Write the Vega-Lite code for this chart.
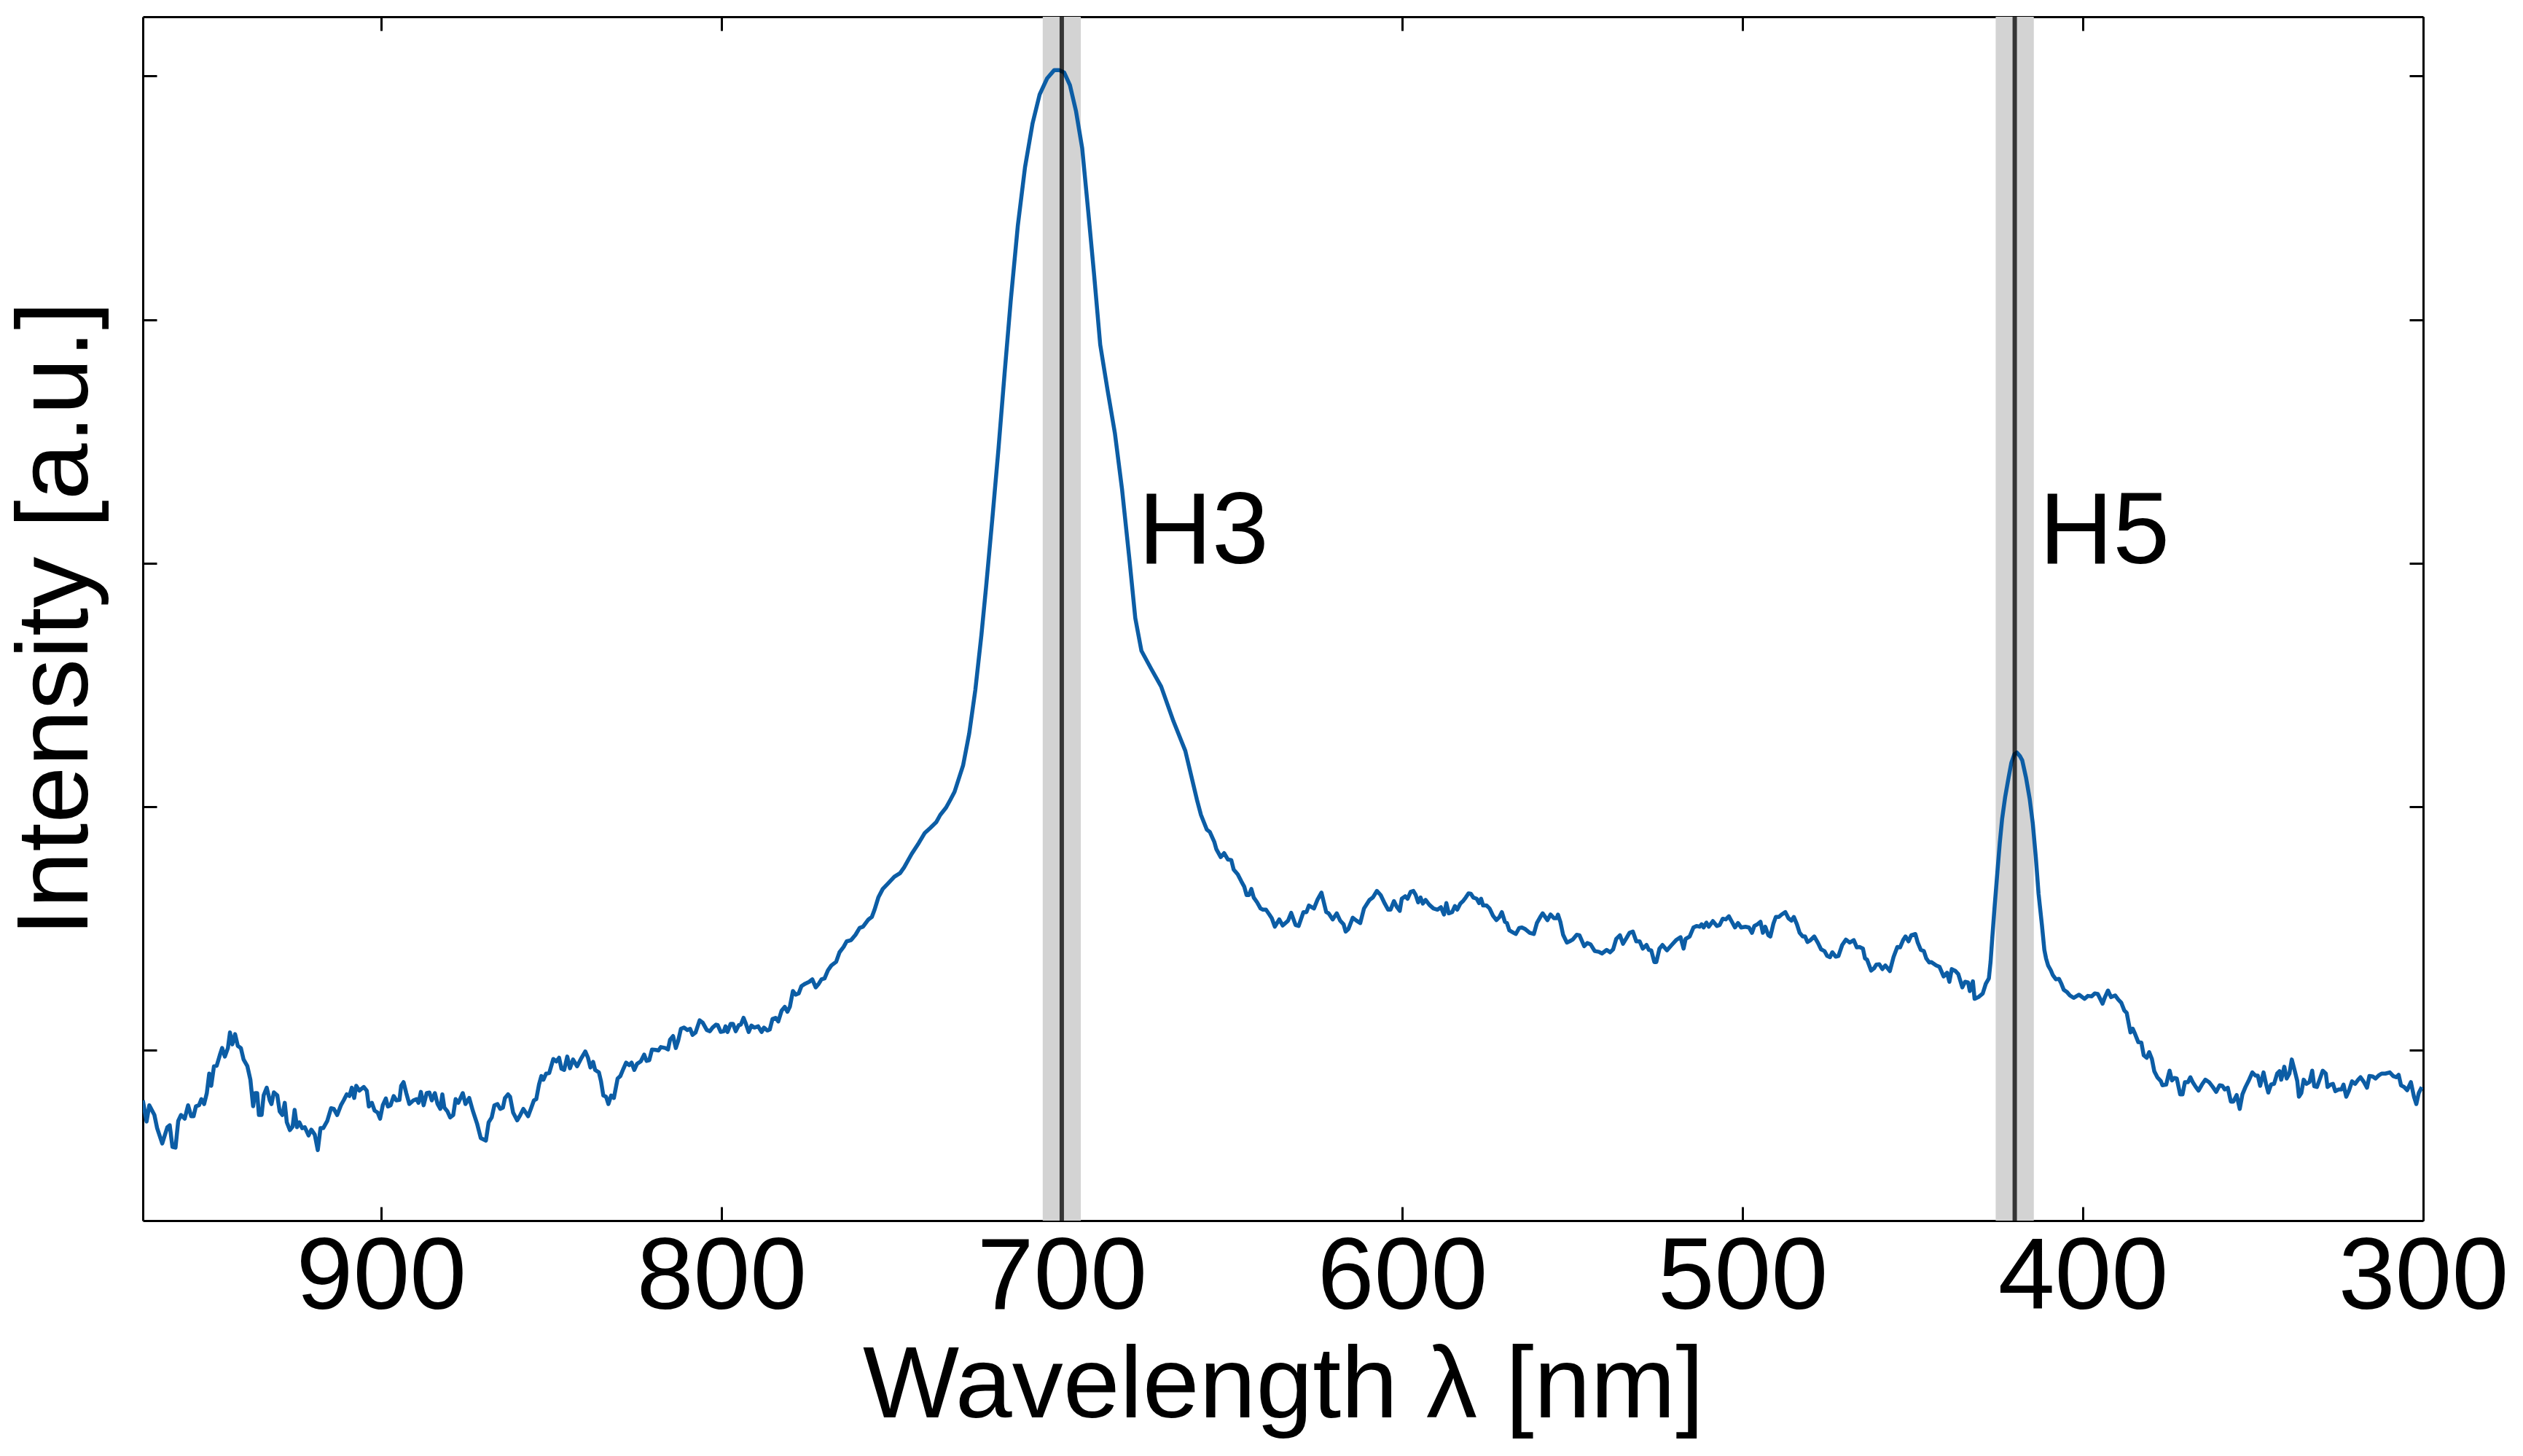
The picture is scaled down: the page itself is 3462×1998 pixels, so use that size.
{
  "$schema": "https://vega.github.io/schema/vega-lite/v6.json",
  "width": 3129,
  "height": 1652,
  "autosize": {"type": "none"},
  "padding": {"left": 196, "top": 23, "right": 137, "bottom": 323},
  "background": "white",
  "config": {
    "view": {"stroke": null},
    "axis": {
      "domainColor": "black", "domainWidth": 3,
      "tickColor": "black", "tickWidth": 3, "tickSize": -19,
      "grid": false,
      "labelFont": "Liberation Sans", "labelFontSize": 140, "labelColor": "black",
      "labelFlush": false, "labelOverlap": false, "labelLimit": 0,
      "titleFont": "Liberation Sans", "titleFontSize": 140, "titleFontWeight": "normal", "titleColor": "black", "titleLimit": 0
    }
  },
  "resolve": {"axis": {"x": "independent", "y": "independent"}},
  "layer": [
    {
      "data": {"values": [{"a": 705.6, "b": 694.4}, {"a": 425.6, "b": 414.4}]},
      "mark": {"type": "rect", "color": "#d3d3d3"},
      "encoding": {
        "x": {"field": "a", "type": "quantitative", "scale": {"domain": [300, 970], "reverse": true, "nice": false, "zero": false}, "axis": null},
        "x2": {"field": "b"}
      }
    },
    {
      "data": {"values": [
        {"w":970.0,"i":-0.205},{"w":968.9,"i":-0.292},{"w":968.1,"i":-0.225},{"w":966.6,"i":-0.265},{"w":965.8,"i":-0.319},{"w":964.3,"i":-0.382},{"w":962.8,"i":-0.315},{"w":962.1,"i":-0.307},{"w":961.3,"i":-0.396},{"w":960.4,"i":-0.399},{"w":959.6,"i":-0.289},{"w":958.8,"i":-0.265},{"w":957.7,"i":-0.28},{"w":956.7,"i":-0.225},{"w":955.8,"i":-0.27},{"w":955.1,"i":-0.27},{"w":954.4,"i":-0.229},{"w":953.5,"i":-0.225},{"w":952.8,"i":-0.2},{"w":952.0,"i":-0.22},{"w":951.2,"i":-0.175},{"w":950.5,"i":-0.095},{"w":949.9,"i":-0.145},{"w":949.1,"i":-0.065},{"w":948.3,"i":-0.063},{"w":947.4,"i":-0.02},{"w":946.7,"i":0.01},{"w":945.9,"i":-0.025},{"w":945.0,"i":0.01},{"w":944.4,"i":0.074},{"w":943.7,"i":0.025},{"w":942.9,"i":0.067},{"w":942.1,"i":0.019},{"w":941.2,"i":0.01},{"w":940.4,"i":-0.037},{"w":939.3,"i":-0.064},{"w":938.4,"i":-0.12},{"w":937.6,"i":-0.229},{"w":937.0,"i":-0.175},{"w":936.4,"i":-0.175},{"w":935.9,"i":-0.265},{"w":935.1,"i":-0.265},{"w":934.5,"i":-0.184},{"w":933.6,"i":-0.153},{"w":932.7,"i":-0.205},{"w":932.2,"i":-0.22},{"w":931.5,"i":-0.172},{"w":930.5,"i":-0.184},{"w":929.8,"i":-0.25},{"w":929.0,"i":-0.265},{"w":928.3,"i":-0.215},{"w":927.7,"i":-0.295},{"w":926.8,"i":-0.327},{"w":926.0,"i":-0.313},{"w":925.4,"i":-0.244},{"w":924.7,"i":-0.315},{"w":924.0,"i":-0.295},{"w":923.2,"i":-0.319},{"w":922.4,"i":-0.315},{"w":921.3,"i":-0.349},{"w":920.5,"i":-0.325},{"w":919.5,"i":-0.345},{"w":918.6,"i":-0.409},{"w":917.8,"i":-0.319},{"w":917.0,"i":-0.319},{"w":915.8,"i":-0.289},{"w":914.7,"i":-0.237},{"w":913.9,"i":-0.24},{"w":912.9,"i":-0.265},{"w":911.8,"i":-0.225},{"w":911.0,"i":-0.205},{"w":910.1,"i":-0.18},{"w":909.3,"i":-0.187},{"w":908.6,"i":-0.153},{"w":907.9,"i":-0.195},{"w":907.3,"i":-0.145},{"w":906.4,"i":-0.165},{"w":905.1,"i":-0.15},{"w":904.2,"i":-0.165},{"w":903.6,"i":-0.23},{"w":902.7,"i":-0.215},{"w":901.9,"i":-0.247},{"w":901.0,"i":-0.255},{"w":900.3,"i":-0.28},{"w":899.5,"i":-0.225},{"w":898.6,"i":-0.197},{"w":898.0,"i":-0.23},{"w":897.2,"i":-0.225},{"w":896.3,"i":-0.187},{"w":895.5,"i":-0.205},{"w":894.6,"i":-0.203},{"w":894.1,"i":-0.145},{"w":893.4,"i":-0.13},{"w":892.6,"i":-0.175},{"w":891.7,"i":-0.22},{"w":890.5,"i":-0.205},{"w":889.6,"i":-0.2},{"w":889.0,"i":-0.215},{"w":888.3,"i":-0.17},{"w":887.5,"i":-0.225},{"w":886.6,"i":-0.175},{"w":885.8,"i":-0.173},{"w":885.1,"i":-0.205},{"w":884.2,"i":-0.175},{"w":883.4,"i":-0.22},{"w":882.6,"i":-0.24},{"w":882.0,"i":-0.18},{"w":881.4,"i":-0.235},{"w":880.5,"i":-0.25},{"w":879.7,"i":-0.275},{"w":878.8,"i":-0.265},{"w":878.1,"i":-0.2},{"w":877.3,"i":-0.215},{"w":876.0,"i":-0.175},{"w":875.2,"i":-0.22},{"w":874.1,"i":-0.195},{"w":873.1,"i":-0.245},{"w":871.8,"i":-0.3},{"w":870.7,"i":-0.36},{"w":869.2,"i":-0.37},{"w":868.4,"i":-0.295},{"w":867.5,"i":-0.275},{"w":866.7,"i":-0.225},{"w":865.8,"i":-0.22},{"w":865.0,"i":-0.24},{"w":864.2,"i":-0.235},{"w":863.6,"i":-0.195},{"w":862.7,"i":-0.18},{"w":862.1,"i":-0.19},{"w":861.2,"i":-0.255},{"w":860.0,"i":-0.287},{"w":859.1,"i":-0.265},{"w":858.2,"i":-0.24},{"w":856.8,"i":-0.27},{"w":856.0,"i":-0.24},{"w":855.1,"i":-0.205},{"w":854.4,"i":-0.2},{"w":853.6,"i":-0.14},{"w":852.9,"i":-0.105},{"w":852.3,"i":-0.12},{"w":851.5,"i":-0.095},{"w":850.6,"i":-0.093},{"w":849.4,"i":-0.035},{"w":848.5,"i":-0.045},{"w":847.7,"i":-0.03},{"w":847.0,"i":-0.075},{"w":846.2,"i":-0.08},{"w":845.3,"i":-0.025},{"w":844.5,"i":-0.073},{"w":843.6,"i":-0.037},{"w":842.4,"i":-0.065},{"w":841.3,"i":-0.035},{"w":840.0,"i":-0.004},{"w":839.2,"i":-0.03},{"w":838.5,"i":-0.07},
        {"w":837.7,"i":-0.047},{"w":837.1,"i":-0.08},{"w":836.0,"i":-0.09},{"w":835.4,"i":-0.125},{"w":834.7,"i":-0.185},{"w":833.9,"i":-0.19},{"w":833.2,"i":-0.22},{"w":832.4,"i":-0.185},{"w":831.6,"i":-0.195},{"w":830.5,"i":-0.115},{"w":829.7,"i":-0.105},{"w":828.8,"i":-0.075},{"w":828.0,"i":-0.05},{"w":827.1,"i":-0.06},{"w":826.4,"i":-0.05},{"w":825.6,"i":-0.08},{"w":824.8,"i":-0.055},{"w":823.7,"i":-0.045},{"w":822.7,"i":-0.017},{"w":822.0,"i":-0.043},{"w":821.2,"i":-0.04},{"w":820.4,"i":0.004},{"w":819.3,"i":0.002},{"w":818.5,"i":0.0},{"w":817.8,"i":0.014},{"w":816.5,"i":0.01},{"w":815.7,"i":0.004},{"w":815.1,"i":0.044},{"w":814.2,"i":0.059},{"w":813.4,"i":0.01},{"w":812.7,"i":0.04},{"w":811.9,"i":0.089},{"w":811.0,"i":0.094},{"w":810.0,"i":0.084},{"w":809.2,"i":0.089},{"w":808.5,"i":0.064},{"w":807.6,"i":0.074},{"w":806.4,"i":0.124},{"w":805.5,"i":0.114},{"w":804.3,"i":0.084},{"w":803.4,"i":0.079},{"w":802.6,"i":0.094},{"w":801.6,"i":0.106},{"w":801.1,"i":0.104},{"w":800.2,"i":0.076},{"w":799.3,"i":0.079},{"w":798.8,"i":0.099},{"w":798.2,"i":0.076},{"w":797.3,"i":0.109},{"w":796.6,"i":0.109},{"w":795.8,"i":0.079},{"w":794.9,"i":0.104},{"w":794.3,"i":0.106},{"w":793.5,"i":0.134},{"w":792.8,"i":0.109},{"w":792.0,"i":0.076},{"w":791.2,"i":0.102},{"w":790.3,"i":0.094},{"w":789.2,"i":0.099},{"w":788.2,"i":0.076},{"w":787.5,"i":0.094},{"w":786.5,"i":0.082},{"w":785.8,"i":0.086},{"w":785.0,"i":0.129},{"w":784.1,"i":0.134},{"w":783.3,"i":0.119},{"w":782.3,"i":0.164},{"w":781.4,"i":0.179},{"w":780.6,"i":0.159},{"w":779.9,"i":0.179},{"w":779.0,"i":0.244},{"w":778.2,"i":0.229},{"w":777.3,"i":0.234},{"w":776.5,"i":0.264},{"w":775.4,"i":0.274},{"w":774.2,"i":0.282},{"w":773.3,"i":0.292},{"w":772.3,"i":0.259},{"w":771.4,"i":0.274},{"w":770.6,"i":0.292},{"w":769.7,"i":0.296},{"w":768.7,"i":0.329},{"w":767.7,"i":0.349},{"w":766.3,"i":0.364},{"w":765.3,"i":0.403},{"w":764.1,"i":0.425},{"w":763.2,"i":0.448},{"w":761.9,"i":0.453},{"w":760.6,"i":0.475},{"w":759.4,"i":0.503},{"w":758.4,"i":0.508},{"w":756.8,"i":0.538},{"w":755.8,"i":0.548},{"w":755.0,"i":0.578},{"w":753.9,"i":0.628},{"w":752.6,"i":0.663},{"w":750.9,"i":0.688},{"w":749.2,"i":0.713},{"w":747.5,"i":0.728},{"w":746.3,"i":0.752},{"w":744.1,"i":0.807},{"w":742.0,"i":0.852},{"w":740.3,"i":0.892},{"w":738.6,"i":0.914},{"w":736.9,"i":0.937},{"w":735.7,"i":0.967},{"w":734.0,"i":0.997},{"w":732.7,"i":1.03},
        {"w":731.5,"i":1.062},{"w":729.0,"i":1.17},{"w":727.2,"i":1.301},{"w":725.4,"i":1.48},{"w":723.6,"i":1.707},{"w":722.2,"i":1.909},{"w":720.4,"i":2.183},{"w":718.6,"i":2.47},{"w":716.8,"i":2.78},{"w":715.0,"i":3.078},{"w":712.9,"i":3.388},{"w":710.8,"i":3.626},{"w":708.6,"i":3.805},{"w":706.5,"i":3.925},{"w":704.3,"i":3.991},{"w":702.2,"i":4.025},{"w":700.8,"i":4.025},{"w":699.3,"i":4.015},{"w":697.6,"i":3.963},{"w":695.8,"i":3.855},{"w":694.0,"i":3.704},{"w":692.2,"i":3.441},{"w":690.5,"i":3.185},{"w":688.7,"i":2.897},{"w":686.5,"i":2.707},{"w":684.4,"i":2.535},{"w":682.3,"i":2.305},{"w":680.1,"i":2.013},{"w":678.4,"i":1.775},{"w":676.6,"i":1.641},{"w":673.7,"i":1.566},{"w":670.8,"i":1.494},{"w":667.2,"i":1.352},{"w":663.7,"i":1.23},
        {"w":660.3,"i":1.03},{"w":659.1,"i":0.967},{"w":657.4,"i":0.907},{"w":656.5,"i":0.897},{"w":655.2,"i":0.857},{"w":654.6,"i":0.827},{"w":653.3,"i":0.794},{"w":652.3,"i":0.81},{"w":651.2,"i":0.784},{"w":650.2,"i":0.782},{"w":649.5,"i":0.743},{"w":648.3,"i":0.723},{"w":647.2,"i":0.693},{"w":646.4,"i":0.673},{"w":645.7,"i":0.638},{"w":645.0,"i":0.638},{"w":644.3,"i":0.663},{"w":643.6,"i":0.628},{"w":642.6,"i":0.608},{"w":641.6,"i":0.583},{"w":640.9,"i":0.578},{"w":640.0,"i":0.578},{"w":639.0,"i":0.558},{"w":638.3,"i":0.543},{"w":637.4,"i":0.508},{"w":636.1,"i":0.538},{"w":635.1,"i":0.513},{"w":633.5,"i":0.533},{"w":632.6,"i":0.565},{"w":631.3,"i":0.515},{"w":630.4,"i":0.511},{"w":629.0,"i":0.568},{"w":628.1,"i":0.568},{"w":627.4,"i":0.595},{"w":625.9,"i":0.583},{"w":624.9,"i":0.618},{"w":623.7,"i":0.648},{"w":622.3,"i":0.568},{"w":621.6,"i":0.563},{"w":620.4,"i":0.538},{"w":619.2,"i":0.563},{"w":618.2,"i":0.533},{"w":617.2,"i":0.518},{"w":616.6,"i":0.488},{"w":615.8,"i":0.498},{"w":614.5,"i":0.545},{"w":613.4,"i":0.533},{"w":612.3,"i":0.523},{"w":611.2,"i":0.583},{"w":609.6,"i":0.618},{"w":608.6,"i":0.628},{"w":607.4,"i":0.655},{"w":606.3,"i":0.638},{"w":605.1,"i":0.603},{"w":604.1,"i":0.578},{"w":603.4,"i":0.578},{"w":602.4,"i":0.613},{"w":601.5,"i":0.588},{"w":600.7,"i":0.573},{"w":600.1,"i":0.623},{"w":599.1,"i":0.633},{"w":598.4,"i":0.623},{"w":597.5,"i":0.651},{"w":596.7,"i":0.655},{"w":596.0,"i":0.638},{"w":595.3,"i":0.608},{"w":594.6,"i":0.628},{"w":593.9,"i":0.603},{"w":593.1,"i":0.618},{"w":592.0,"i":0.598},{"w":590.8,"i":0.583},{"w":589.6,"i":0.578},{"w":588.6,"i":0.588},{"w":587.7,"i":0.558},{"w":587.0,"i":0.605},{"w":586.3,"i":0.563},{"w":585.3,"i":0.568},{"w":584.5,"i":0.593},{"w":583.8,"i":0.578},{"w":582.9,"i":0.603},{"w":582.0,"i":0.615},{"w":581.3,"i":0.628},{"w":580.5,"i":0.645},{"w":579.8,"i":0.643},{"w":579.1,"i":0.628},{"w":578.1,"i":0.623},{"w":577.4,"i":0.605},{"w":576.8,"i":0.623},{"w":576.2,"i":0.595},{"w":575.2,"i":0.595},{"w":574.3,"i":0.583},{"w":573.3,"i":0.553},{"w":572.3,"i":0.535},{"w":571.4,"i":0.548},{"w":570.7,"i":0.568},{"w":569.8,"i":0.528},{"w":569.2,"i":0.523},{"w":568.5,"i":0.493},{"w":567.5,"i":0.485},{"w":566.6,"i":0.478},{"w":565.6,"i":0.503},{"w":564.8,"i":0.505},{"w":563.8,"i":0.498},{"w":562.5,"i":0.483},{"w":561.3,"i":0.478},{"w":560.4,"i":0.523},{"w":559.4,"i":0.548},{"w":558.7,"i":0.563},{"w":557.3,"i":0.535},{"w":556.4,"i":0.558},{"w":555.4,"i":0.543},{"w":554.6,"i":0.543},{"w":554.2,"i":0.558},{"w":553.5,"i":0.528},{"w":552.7,"i":0.475},{"w":551.6,"i":0.443},{"w":550.8,"i":0.448},{"w":549.9,"i":0.455},{"w":548.7,"i":0.475},{"w":547.9,"i":0.473},{"w":546.5,"i":0.428},{"w":545.6,"i":0.441},{"w":544.6,"i":0.435},{"w":543.4,"i":0.408},{"w":542.2,"i":0.405},{"w":541.3,"i":0.398},{"w":539.9,"i":0.413},{"w":538.9,"i":0.403},{"w":538.0,"i":0.415},{"w":537.1,"i":0.458},{"w":536.0,"i":0.473},{"w":535.1,"i":0.438},{"w":534.1,"i":0.461},{"w":533.2,"i":0.483},{"w":532.2,"i":0.488},{"w":531.2,"i":0.448},
        {"w":530.2,"i":0.448},{"w":529.3,"i":0.418},{"w":528.2,"i":0.433},{"w":527.5,"i":0.413},{"w":526.8,"i":0.411},{"w":525.9,"i":0.363},{"w":525.3,"i":0.363},{"w":524.4,"i":0.418},{"w":523.5,"i":0.433},{"w":522.2,"i":0.411},{"w":520.8,"i":0.433},{"w":519.5,"i":0.453},{"w":518.2,"i":0.465},{"w":517.3,"i":0.418},{"w":516.7,"i":0.458},{"w":515.5,"i":0.468},{"w":514.4,"i":0.505},{"w":513.5,"i":0.511},{"w":512.6,"i":0.508},{"w":512.0,"i":0.518},{"w":511.4,"i":0.505},{"w":510.6,"i":0.525},{"w":509.9,"i":0.508},{"w":508.7,"i":0.531},{"w":507.5,"i":0.511},{"w":506.7,"i":0.515},{"w":505.8,"i":0.541},{"w":504.9,"i":0.538},{"w":504.0,"i":0.551},{"w":503.1,"i":0.528},{"w":502.2,"i":0.505},{"w":501.3,"i":0.523},{"w":500.4,"i":0.505},{"w":499.1,"i":0.508},{"w":498.1,"i":0.505},{"w":497.2,"i":0.483},{"w":496.5,"i":0.511},{"w":495.6,"i":0.518},{"w":494.7,"i":0.528},{"w":494.0,"i":0.483},{"w":493.3,"i":0.508},{"w":492.4,"i":0.473},{"w":491.8,"i":0.468},{"w":490.9,"i":0.521},{"w":490.2,"i":0.548},{"w":489.3,"i":0.548},{"w":488.5,"i":0.558},{"w":487.4,"i":0.568},{"w":486.5,"i":0.543},{"w":485.6,"i":0.533},{"w":484.9,"i":0.548},{"w":484.0,"i":0.518},{"w":483.2,"i":0.483},{"w":482.3,"i":0.468},{"w":481.6,"i":0.468},{"w":480.9,"i":0.445},{"w":480.0,"i":0.453},{"w":478.9,"i":0.468},{"w":477.8,"i":0.441},{"w":476.9,"i":0.415},{"w":475.9,"i":0.408},{"w":475.1,"i":0.388},{"w":474.3,"i":0.383},{"w":473.6,"i":0.403},{"w":472.6,"i":0.385},{"w":471.8,"i":0.388},{"w":470.7,"i":0.433},{"w":469.6,"i":0.455},{"w":468.5,"i":0.443},{"w":467.3,"i":0.453},{"w":466.4,"i":0.423},{"w":465.6,"i":0.425},{"w":464.6,"i":0.418},{"w":464.0,"i":0.378},{"w":463.4,"i":0.373},{"w":462.2,"i":0.328},{"w":461.3,"i":0.338},{"w":460.7,"i":0.352},{"w":459.8,"i":0.354},{"w":458.9,"i":0.334},{"w":458.0,"i":0.349},{"w":456.7,"i":0.326},{"w":455.6,"i":0.384},{"w":454.5,"i":0.425},{"w":453.7,"i":0.423},{"w":452.8,"i":0.453},{"w":452.1,"i":0.468},{"w":451.2,"i":0.448},{"w":450.4,"i":0.473},{"w":449.2,"i":0.478},{"w":448.5,"i":0.443},{"w":447.6,"i":0.413},{"w":446.7,"i":0.408},{"w":446.0,"i":0.378},{"w":445.1,"i":0.361},{"w":444.5,"i":0.363},
        {"w":443.1,"i":0.349},{"w":442.1,"i":0.343},{"w":440.9,"i":0.304},{"w":439.9,"i":0.319},{"w":439.2,"i":0.282},{"w":438.5,"i":0.334},{"w":437.4,"i":0.326},{"w":436.6,"i":0.314},{"w":435.4,"i":0.259},{"w":434.6,"i":0.282},{"w":433.7,"i":0.279},{"w":433.2,"i":0.244},{"w":432.3,"i":0.284},{"w":431.8,"i":0.212},{"w":430.7,"i":0.219},{"w":429.4,"i":0.234},{"w":428.5,"i":0.274},{"w":427.6,"i":0.296},{"w":427.1,"i":0.364},{"w":426.6,"i":0.463},{"w":425.9,"i":0.593},{"w":425.1,"i":0.732},{"w":424.4,"i":0.852},{"w":423.7,"i":0.952},{"w":422.8,"i":1.042},{"w":421.8,"i":1.121},{"w":421.0,"i":1.181},{"w":420.1,"i":1.216},{"w":419.4,"i":1.223},{"w":418.5,"i":1.209},{"w":417.8,"i":1.191},{"w":416.7,"i":1.121},{"w":415.6,"i":1.032},{"w":414.7,"i":0.932},{"w":413.8,"i":0.792},{"w":413.0,"i":0.643},{"w":412.0,"i":0.513},{"w":411.3,"i":0.413},{"w":410.8,"i":0.378},{"w":410.2,"i":0.349},{"w":409.4,"i":0.329},{"w":408.8,"i":0.309},{"w":407.9,"i":0.292},{"w":407.0,"i":0.294},{"w":406.3,"i":0.274},{"w":405.6,"i":0.249},{"w":404.6,"i":0.239},{"w":403.8,"i":0.226},{"w":402.7,"i":0.216},{"w":401.1,"i":0.229},{"w":399.5,"i":0.212},{"w":398.5,"i":0.224},{"w":397.4,"i":0.222},{"w":396.5,"i":0.234},{"w":395.6,"i":0.232},
        {"w":394.2,"i":0.192},{"w":393.5,"i":0.219},{"w":392.6,"i":0.246},{"w":391.7,"i":0.219},{"w":390.5,"i":0.226},{"w":389.6,"i":0.209},{"w":388.7,"i":0.196},{"w":387.8,"i":0.164},{"w":387.1,"i":0.154},{"w":386.0,"i":0.074},{"w":385.3,"i":0.089},{"w":384.6,"i":0.066},{"w":383.7,"i":0.034},{"w":382.8,"i":0.032},{"w":382.1,"i":-0.02},{"w":381.2,"i":-0.03},{"w":380.5,"i":-0.007},{"w":379.7,"i":-0.035},{"w":379.0,"i":-0.085},{"w":378.1,"i":-0.11},{"w":377.1,"i":-0.125},{"w":376.6,"i":-0.143},{"w":375.5,"i":-0.14},{"w":375.0,"i":-0.11},{"w":374.5,"i":-0.083},{"w":373.8,"i":-0.123},{"w":373.1,"i":-0.113},{"w":372.4,"i":-0.115},{"w":371.4,"i":-0.18},{"w":370.7,"i":-0.18},{"w":370.0,"i":-0.13},{"w":369.1,"i":-0.13},{"w":368.4,"i":-0.11},{"w":367.7,"i":-0.13},{"w":366.8,"i":-0.15},{"w":366.0,"i":-0.165},{"w":365.0,"i":-0.14},{"w":364.0,"i":-0.12},{"w":362.9,"i":-0.13},{"w":361.8,"i":-0.15},{"w":360.8,"i":-0.17},{"w":359.8,"i":-0.143},{"w":359.0,"i":-0.145},{"w":358.3,"i":-0.16},{"w":357.4,"i":-0.153},{"w":356.5,"i":-0.21},{"w":355.8,"i":-0.21},{"w":354.8,"i":-0.183},{"w":353.9,"i":-0.24},{"w":353.1,"i":-0.18},{"w":352.2,"i":-0.15},{"w":351.3,"i":-0.125},{"w":350.2,"i":-0.09},{"w":349.3,"i":-0.103},{"w":348.6,"i":-0.103},{"w":347.9,"i":-0.145},{"w":346.9,"i":-0.09},{"w":346.2,"i":-0.135},{"w":345.5,"i":-0.173},{"w":344.7,"i":-0.14},{"w":343.8,"i":-0.137},{"w":342.9,"i":-0.095},{"w":342.2,"i":-0.085},{"w":341.7,"i":-0.12},{"w":340.8,"i":-0.067},{"w":340.1,"i":-0.115},{"w":339.3,"i":-0.095},{"w":338.6,"i":-0.037},{"w":337.7,"i":-0.085},{"w":337.0,"i":-0.125},{"w":336.5,"i":-0.19},{"w":335.8,"i":-0.175},{"w":335.1,"i":-0.12},{"w":334.3,"i":-0.137},{"w":333.4,"i":-0.13},{"w":332.6,"i":-0.083},{"w":332.0,"i":-0.147},{"w":331.2,"i":-0.15},{"w":330.3,"i":-0.115},{"w":329.5,"i":-0.083},{"w":328.6,"i":-0.095},{"w":328.1,"i":-0.15},{"w":327.2,"i":-0.14},{"w":326.5,"i":-0.137},{"w":325.8,"i":-0.167},{"w":324.8,"i":-0.16},{"w":324.0,"i":-0.16},{"w":323.4,"i":-0.14},{"w":322.6,"i":-0.19},{"w":321.8,"i":-0.165},{"w":320.9,"i":-0.127},{"w":320.0,"i":-0.137},{"w":319.1,"i":-0.12},{"w":318.4,"i":-0.11},{"w":317.4,"i":-0.13},{"w":316.5,"i":-0.153},{"w":315.8,"i":-0.105},{"w":314.8,"i":-0.107},{"w":314.0,"i":-0.115},{"w":313.1,"i":-0.103},{"w":312.2,"i":-0.095},{"w":311.1,"i":-0.095},{"w":309.8,"i":-0.09},{"w":308.8,"i":-0.105},{"w":307.9,"i":-0.11},{"w":307.2,"i":-0.1},{"w":306.5,"i":-0.143},{"w":305.6,"i":-0.15},{"w":304.7,"i":-0.163},{"w":303.6,"i":-0.13},{"w":302.7,"i":-0.19},{"w":302.0,"i":-0.22},{"w":301.3,"i":-0.175},{"w":300.4,"i":-0.15}
      ]},
      "mark": {"type": "line", "color": "#0C5DA5", "strokeWidth": 5.5, "clip": true, "strokeJoin": "round"},
      "encoding": {
        "x": {"field": "w", "type": "quantitative",
              "scale": {"domain": [300, 970], "reverse": true, "nice": false, "zero": false},
              "axis": {"orient": "bottom", "values": [900, 800, 700, 600, 500, 400, 300], "format": "d", "labelPadding": 28, "titlePadding": 10, "title": "Wavelength λ [nm]"}},
        "y": {"field": "i", "type": "quantitative",
              "scale": {"domain": [-0.6986, 4.2438], "nice": false, "zero": false},
              "axis": {"orient": "left", "values": [0, 1, 2, 3, 4], "labels": false, "titlePadding": 46, "title": "Intensity [a.u.]"}}
      }
    },
    {
      "data": {"values": [{"c": 700}, {"c": 420}]},
      "mark": {"type": "rule", "color": "black", "opacity": 0.75, "strokeWidth": 6},
      "encoding": {
        "x": {"field": "c", "type": "quantitative", "scale": {"domain": [300, 970], "reverse": true, "nice": false, "zero": false}, "axis": null}
      }
    },
    {
      "data": {"values": [{"t": "H3", "x": 677.5, "y": 2.0}, {"t": "H5", "x": 412.8, "y": 2.0}]},
      "mark": {"type": "text", "align": "left", "baseline": "alphabetic", "font": "Liberation Sans", "fontSize": 140, "color": "black"},
      "encoding": {
        "x": {"field": "x", "type": "quantitative",
              "scale": {"domain": [300, 970], "reverse": true, "nice": false, "zero": false},
              "axis": {"orient": "top", "values": [900, 800, 700, 600, 500, 400, 300], "labels": false, "title": null}},
        "y": {"field": "y", "type": "quantitative",
              "scale": {"domain": [-0.6986, 4.2438], "nice": false, "zero": false},
              "axis": {"orient": "right", "values": [0, 1, 2, 3, 4], "labels": false, "title": null}},
        "text": {"field": "t"}
      }
    }
  ]
}
